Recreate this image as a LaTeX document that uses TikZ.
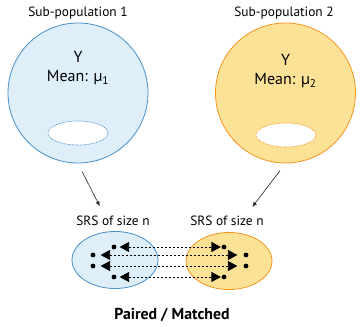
\documentclass[tikz,border=0pt]{standalone}
\usepackage{fontspec}
\setmainfont{PT Sans}
\usetikzlibrary{arrows.meta,positioning,shapes.geometric}

\definecolor{bluefill}{RGB}{222,239,250}
\definecolor{blueline}{RGB}{70,142,200}
\definecolor{yellowfill}{RGB}{252,226,150}
\definecolor{orangeline}{RGB}{247,148,30}

\begin{document}
\begin{tikzpicture}[
  x=1pt, y=-1pt,
  font=\fontsize{13.4}{15}\selectfont,
  >={Latex[length=5pt,width=4pt]},
  popone/.style={circle, draw=blueline, fill=bluefill, line width=0.8pt,
    minimum size=140pt, inner sep=0pt},
  poptwo/.style={circle, draw=orangeline, fill=yellowfill, line width=0.8pt,
    minimum size=140pt, inner sep=0pt},
  meantext/.style={align=center, font=\fontsize{16}{18}\selectfont},
  subset/.style={ellipse, fill=white, line width=0.7pt,
    dash pattern=on 0.8pt off 0.8pt, minimum width=60pt, minimum height=24pt},
  sampleone/.style={ellipse, draw=blueline, fill=bluefill, line width=0.8pt,
    minimum width=86pt, minimum height=57pt},
  sampletwo/.style={ellipse, draw=orangeline, fill=yellowfill, line width=0.8pt,
    minimum width=86pt, minimum height=57pt},
  dot/.style={circle, fill=black, inner sep=0pt, minimum size=4.8pt},
  arrow/.style={->, line width=0.6pt, black!85},
  pair/.style={{Triangle[length=9.5pt,width=10pt]}-{Triangle[length=9.5pt,width=10pt]},
    line width=0.8pt, dash pattern=on 2.5pt off 1.5pt}
]
  \useasboundingbox (0,0) rectangle (360,327);

  % populations
  \node[popone] (pop1) at (78,93) {};
  \node[poptwo] (pop2) at (285.5,93) {};
  \node (title1) at (78,13) {Sub-population 1};
  \node (title2) at (284,13) {Sub-population 2};
  \node[meantext] (mean1) at ([yshift=25pt]pop1.center)
    {Y\\[1pt]Mean: µ\textsubscript{1}};
  \node[meantext] (mean2) at ([yshift=22pt]pop2.center)
    {Y\\[1pt]Mean: µ\textsubscript{2}};
  \node[subset, draw=blueline] (sub1) at (78,133) {};
  \node[subset, draw=orangeline] (sub2) at (286,135) {};

  % samples
  \node (srs1) at (113,221) {SRS of size n};
  \node (srs2) at (227,221) {SRS of size n};
  \draw[arrow, shorten <=9pt, shorten >=7pt] (pop1.south) -- ([xshift=-10pt]srs1.north);
  \draw[arrow, shorten <=9pt, shorten >=7pt] (pop2.south) -- ([xshift=21pt]srs2.north);

  \node[sampleone] (samp1) at (115,260) {};
  \node[sampletwo] (samp2) at (229,261) {};

  % matched pairs
  \node[dot] (a1) at (114,247) {};
  \node[dot] (a2) at (93,255) {};
  \node[dot] (a3) at (93,266) {};
  \node[dot] (a4) at (114,277) {};
  \node[dot] (b1) at (224,247) {};
  \node[dot] (b2) at (246,255) {};
  \node[dot] (b3) at (246,266) {};
  \node[dot] (b4) at (224,277) {};
  \draw[pair, shorten <=3pt, shorten >=0.5pt] (a1) -- (b1);
  \draw[pair, shorten <=5pt, shorten >=6pt] (a2) -- (b2);
  \draw[pair, shorten <=5pt, shorten >=6pt] (a3) -- (b3);
  \draw[pair, shorten <=3pt, shorten >=0.5pt] (a4) -- (b4);

  \node[font=\fontsize{15.8}{18}\selectfont\bfseries] (paired) at (172,315) {Paired / Matched};
\end{tikzpicture}
\end{document}
